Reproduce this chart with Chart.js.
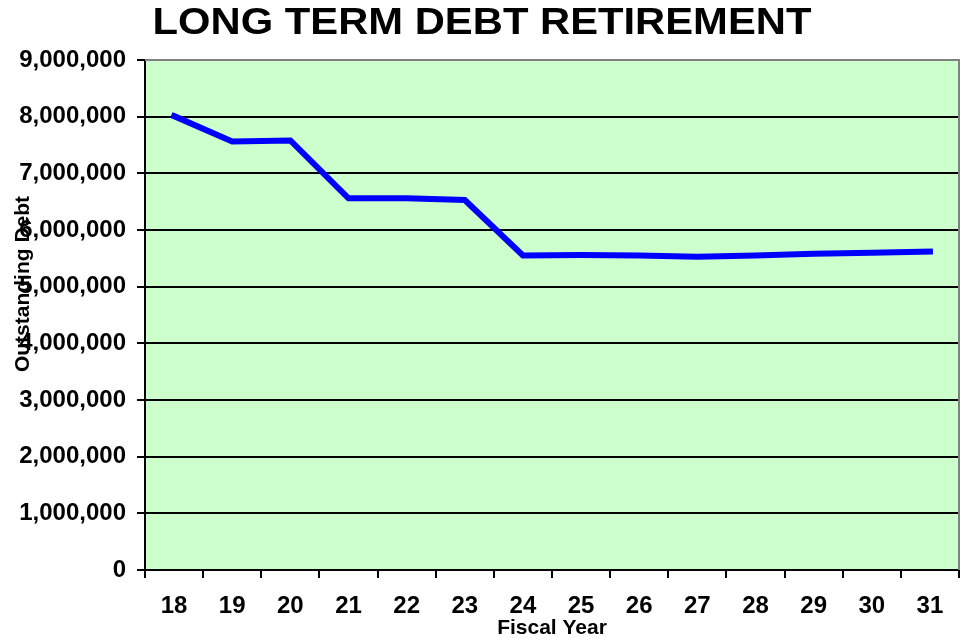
<!DOCTYPE html>
<html lang="en">
<head>
    <meta charset="UTF-8">
    <title>Long Term Debt Retirement</title>
    <style>
        body { margin: 0; background: #fff; }
        #debtChart { display: block; }
    </style>
    <script src="https://cdn.jsdelivr.net/npm/chart.js@4.4.1/dist/chart.umd.min.js"></script>
</head>
<body>
    <canvas id="debtChart" width="965" height="644"></canvas>

    <script>
        // data
        const fiscalYears = ['18', '19', '20', '21', '22', '23', '24', '25', '26', '27', '28', '29', '30', '31'];
        const outstandingDebt = [8010000, 7560000, 7580000, 6560000, 6560000, 6530000, 5550000,
                                 5560000, 5550000, 5530000, 5550000, 5580000, 5600000, 5620000];
        const yTicks = [0, 1000000, 2000000, 3000000, 4000000, 5000000, 6000000, 7000000, 8000000, 9000000];

        const chartTitle = 'LONG TERM DEBT RETIREMENT';
        const xTitle = 'Fiscal Year';
        const yTitle = 'Outstanding Debt';

        const FONT = 'Arial, "Liberation Sans", sans-serif';

        // green plot background + gray top/right frame, then the titles
        const frame = {
            id: 'frame',
            beforeDraw(chart) {
                const { ctx, chartArea: a } = chart;
                ctx.save();
                ctx.fillStyle = '#ccffcc';
                ctx.fillRect(a.left, a.top, a.right - a.left, a.bottom - a.top);
                ctx.restore();
            },
            afterDraw(chart) {
                const { ctx, chartArea: a } = chart;
                ctx.save();
                ctx.strokeStyle = '#808080';
                ctx.lineWidth = 2;
                ctx.beginPath();
                ctx.moveTo(a.left, a.top);
                ctx.lineTo(a.right, a.top);
                ctx.lineTo(a.right, a.bottom);
                ctx.stroke();

                ctx.fillStyle = '#000';
                ctx.textAlign = 'center';
                ctx.textBaseline = 'middle';

                // title (the original font is a bit wider than Arial)
                ctx.save();
                ctx.translate(482, 24);
                ctx.scale(1.16, 1);
                ctx.font = 'bold 36px ' + FONT;
                ctx.fillText(chartTitle, 0, 0);
                ctx.restore();

                ctx.font = 'bold 21px ' + FONT;
                ctx.fillText(xTitle, (a.left + a.right) / 2, 628);

                ctx.save();
                ctx.translate(23, 284);
                ctx.rotate(-Math.PI / 2);
                ctx.font = 'bold 21px ' + FONT;
                ctx.fillText(yTitle, 0, 0);
                ctx.restore();
                ctx.restore();
            }
        };

        new Chart(document.getElementById('debtChart'), {
            type: 'line',
            data: {
                labels: fiscalYears,
                datasets: [{
                    label: yTitle,
                    data: outstandingDebt,
                    borderColor: '#0000ff',
                    borderWidth: 6,
                    borderCapStyle: 'square',
                    borderJoinStyle: 'miter',
                    pointRadius: 0,
                    tension: 0
                }]
            },
            options: {
                responsive: false,
                animation: false,
                layout: { padding: { top: 60, right: 6, left: 0, bottom: 0 } },
                plugins: {
                    legend: { display: false },
                    title: { display: false },
                    tooltip: { enabled: false }
                },
                scales: {
                    x: {
                        offset: true,
                        afterFit(scale) { scale.height = 74; },
                        grid: {
                            offset: true,
                            drawOnChartArea: false,
                            drawTicks: true,
                            tickLength: 8,
                            color: '#000',
                            lineWidth: 2
                        },
                        border: { display: true, color: '#000', width: 2 },
                        ticks: {
                            color: '#000',
                            padding: 14,
                            maxRotation: 0,
                            font: { family: FONT, size: 24, weight: 'bold' }
                        }
                    },
                    y: {
                        min: 0,
                        max: 9000000,
                        afterFit(scale) { scale.width = 145; },
                        afterBuildTicks(scale) {
                            scale.ticks = yTicks.map(v => ({ value: v }));
                        },
                        grid: {
                            color: ctx => ctx.tick && ctx.tick.value === 9000000 ? '#808080' : '#000',
                            tickColor: '#000',
                            lineWidth: 2,
                            drawTicks: true,
                            tickLength: 8
                        },
                        border: { display: true, color: '#000', width: 2 },
                        ticks: {
                            color: '#000',
                            padding: 11,
                            font: { family: FONT, size: 24, weight: 'bold' },
                            callback: v => v.toLocaleString('en-US')
                        }
                    }
                }
            },
            plugins: [frame]
        });
    </script>
</body>
</html>
